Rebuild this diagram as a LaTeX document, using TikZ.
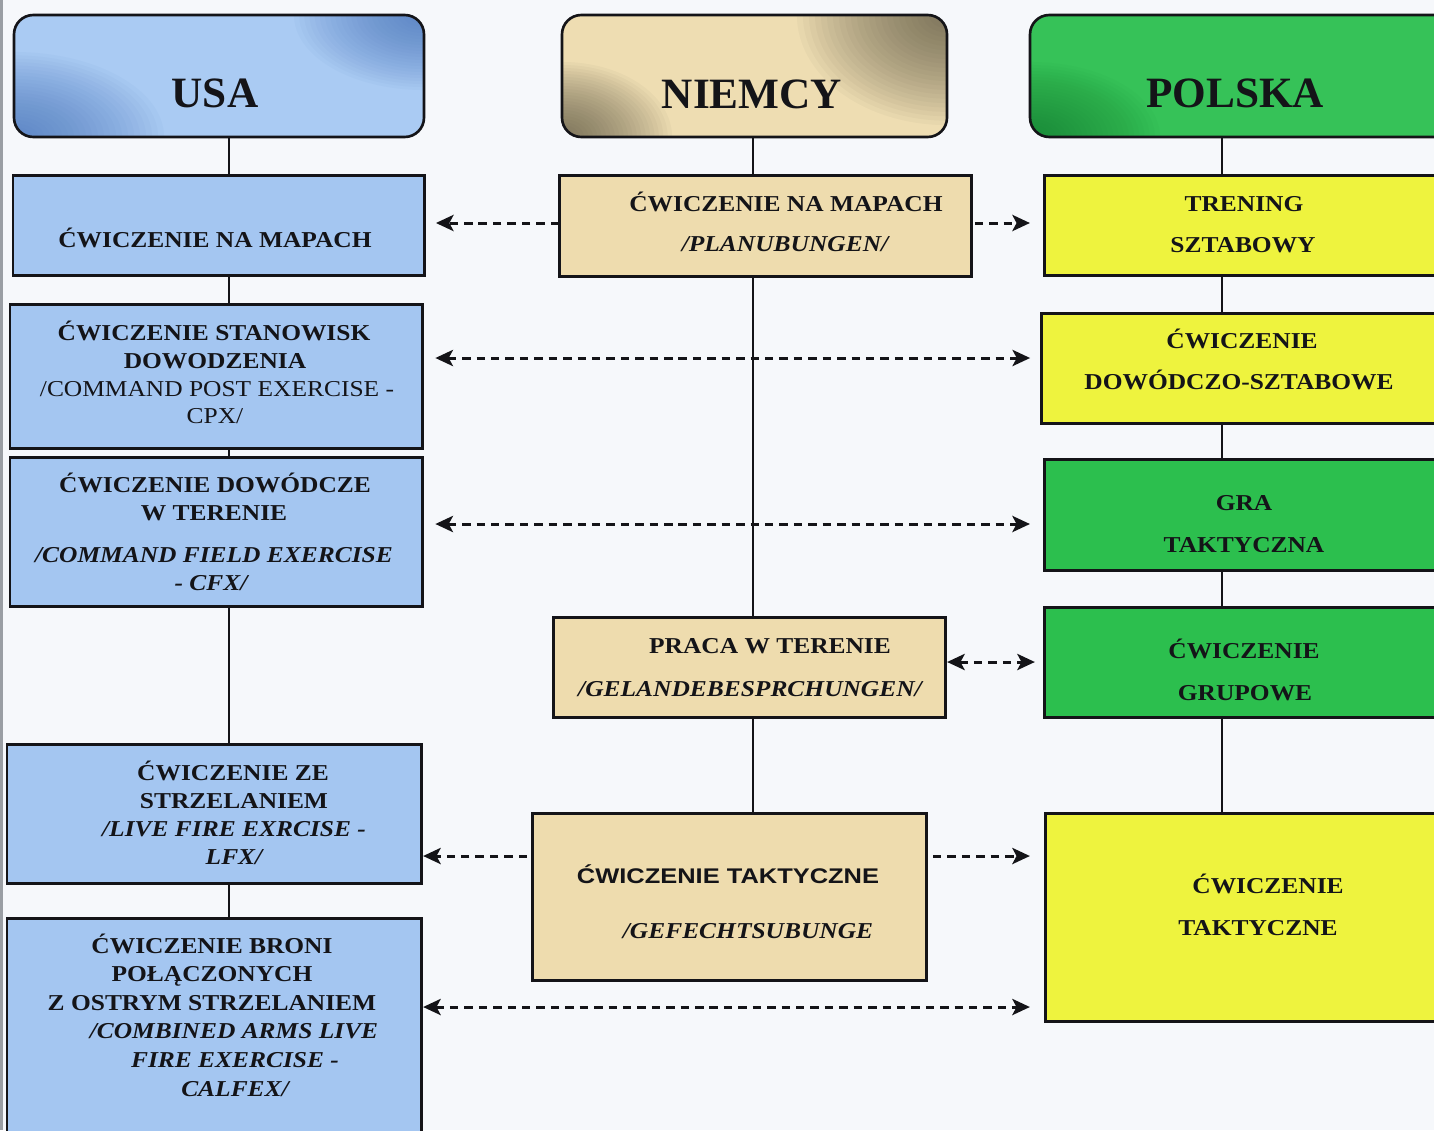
\documentclass[tikz,border=0pt]{standalone}
\usepackage{fontspec}
\usetikzlibrary{arrows.meta,fit}

\newfontfamily\bxserif[FakeStretch=1.12]{Liberation Serif}
\newfontfamily\bxsans[FakeStretch=1.2]{Liberation Sans}
\newfontfamily\hdserif{Liberation Serif}

\definecolor{bgc}{HTML}{F6F8FB}
\definecolor{ink}{HTML}{141418}
\definecolor{bluebox}{HTML}{A4C6F1}
\definecolor{bluehdr}{HTML}{AACBF3}
\definecolor{bluedark}{HTML}{3F6CB8}
\definecolor{tanbox}{HTML}{EEDCAE}
\definecolor{tanhdr}{HTML}{EEDDB2}
\definecolor{tandark}{HTML}{4E4838}
\definecolor{yel}{HTML}{EEF33E}
\definecolor{grn}{HTML}{2CBF4E}
\definecolor{grnhdr}{HTML}{36C258}
\definecolor{grndark}{HTML}{167A32}
\definecolor{edge}{HTML}{9A9EA4}

\tikzset{
  box/.style={draw=ink, line width=0.85pt, inner sep=0pt, outer sep=0pt},
  bluebx/.style={box, fill=bluebox},
  tanbx/.style={box, fill=tanbox},
  yelbx/.style={box, fill=yel},
  grnbx/.style={box, fill=grn},
  hdr/.style={draw=ink, line width=0.75pt, rounded corners=5.5pt, inner sep=0pt, outer sep=0pt},
  ln/.style={anchor=base, inner sep=0pt, outer sep=0pt, text=ink},
  tb/.style={ln, font=\bxserif\fontsize{6.46pt}{7pt}\selectfont\bfseries},
  tbi/.style={ln, font=\bxserif\fontsize{6.46pt}{7pt}\selectfont\bfseries\itshape},
  tr/.style={ln, font=\bxserif\fontsize{6.46pt}{7pt}\selectfont},
  ts/.style={ln, font=\bxsans\fontsize{6.03pt}{7pt}\selectfont\bfseries},
  ttl/.style={ln, font=\hdserif\fontsize{12.3pt}{14pt}\selectfont\bfseries},
  conn/.style={draw=ink, line width=0.55pt},
  tipd/.tip={Stealth[length=5pt,width=4.6pt,inset=1.2pt]},
  darr/.style={draw=ink, line width=0.85pt, dash pattern=on 2.4pt off 1.7pt},
}

% soft dark glow in a header corner: many stacked translucent ellipses
\newcommand\cornerglow[4]{%
  \foreach \s in {1.0,0.96,...,0.04}
    \fill[#1, opacity=0.038] #2 ellipse [x radius=\s*#3, y radius=\s*#4];%
}

\begin{document}
\begin{tikzpicture}[x=0.01cm, y=-0.01cm]
\useasboundingbox (0,0) rectangle (1434,1130);
\clip (0,0) rectangle (1434,1130);
\fill[bgc] (0,0) rectangle (1434,1130);
\fill[edge] (0,0) rectangle (3,1130);

% ---- column headers ----
\node[hdr, fill=bluehdr, fit={(14,15) (424,137)},
  path picture={
    \cornerglow{bluedark}{(path picture bounding box.south west)}{1.5cm}{0.85cm}
    \cornerglow{bluedark}{(path picture bounding box.north east)}{1.3cm}{0.75cm}
  }] (USA) {};
\node[hdr, fill=tanhdr, fit={(562,15) (947,137)},
  path picture={
    \cornerglow{tandark}{(path picture bounding box.north east)}{1.5cm}{1.1cm}
    \cornerglow{tandark}{(path picture bounding box.south west)}{1.1cm}{0.75cm}
  }] (NIEMCY) {};
\node[hdr, fill=grnhdr, fit={(1030,15) (1460,137)},
  path picture={
    \cornerglow{grndark}{(path picture bounding box.south west)}{1.3cm}{0.75cm}
    \cornerglow{grndark}{(1434,15)}{0.9cm}{0.6cm}
  }] (POLSKA) {};

\node[ttl] (USA-t) at (215,107) {USA};
\node[ttl] (NIEMCY-t) at (752,108) {NIEMCY};
\node[ttl] (POLSKA-t) at (1235,107) {POLSKA};

% ---- USA column ----
\node[bluebx, fit={(13,175) (424,275)}] (B1) {};
\node[bluebx, fit={(10,304) (422,448)}] (B2) {};
\node[bluebx, fit={(10,457) (422,606)}] (B3) {};
\node[bluebx, fit={(7,744) (421,883)}] (B4) {};
\node[bluebx, fit={(7,918) (421,1150)}] (B5) {};

\node[tb] (B1-1) at (215,247) {ĆWICZENIE NA MAPACH};

\node[tb] (B2-1) at (214,340) {ĆWICZENIE STANOWISK};
\node[tb] (B2-2) at (215,368) {DOWODZENIA};
\node[tr] (B2-3) at (217,396) {/COMMAND POST EXERCISE -};
\node[tr] (B2-4) at (215,423) {CPX/};

\node[tb] (B3-1) at (215,492) {ĆWICZENIE DOWÓDCZE};
\node[tb] (B3-2) at (214,520) {W TERENIE};
\node[tbi] (B3-3) at (214,562) {/COMMAND FIELD EXERCISE};
\node[tbi] (B3-4) at (211,590) {- CFX/};

\node[tb] (B4-1) at (233,780) {ĆWICZENIE ZE};
\node[tb] (B4-2) at (234,808) {STRZELANIEM};
\node[tbi] (B4-3) at (234,836) {/LIVE FIRE EXRCISE -};
\node[tbi] (B4-4) at (234,864) {LFX/};

\node[tb] (B5-1) at (212,953) {ĆWICZENIE BRONI};
\node[tb] (B5-2) at (212,981) {POŁĄCZONYCH};
\node[tb] (B5-3) at (212,1010) {Z OSTRYM STRZELANIEM};
\node[tbi] (B5-4) at (234,1038) {/COMBINED ARMS LIVE};
\node[tbi] (B5-5) at (235,1067) {FIRE EXERCISE -};
\node[tbi] (B5-6) at (235,1096) {CALFEX/};

% ---- NIEMCY column ----
\node[tanbx, fit={(559,175) (971,276)}] (M1) {};
\node[tanbx, fit={(553,617) (945,717)}] (M2) {};
\node[tanbx, fit={(532,813) (926,980)}] (M3) {};

\node[tb] (M1-1) at (786,211) {ĆWICZENIE NA MAPACH};
\node[tbi] (M1-2) at (785,251) {/PLANUBUNGEN/};

\node[tb] (M2-1) at (770,653) {PRACA W TERENIE};
\node[tbi] (M2-2) at (750,696) {/GELANDEBESPRCHUNGEN/};

\node[ts] (M3-1) at (728,883) {ĆWICZENIE TAKTYCZNE};
\node[tbi] (M3-2) at (748,938) {/GEFECHTSUBUNGE};

% ---- POLSKA column ----
\node[yelbx, fit={(1044,175) (1460,275)}] (R1) {};
\node[yelbx, fit={(1041,313) (1460,423)}] (R2) {};
\node[grnbx, fit={(1044,459) (1460,570)}] (R3) {};
\node[grnbx, fit={(1044,607) (1460,717)}] (R4) {};
\node[yelbx, fit={(1045,813) (1460,1021)}] (R5) {};

\node[tb] (R1-1) at (1244,211) {TRENING};
\node[tb] (R1-2) at (1243,252) {SZTABOWY};

\node[tb] (R2-1) at (1242,348) {ĆWICZENIE};
\node[tb] (R2-2) at (1239,389) {DOWÓDCZO-SZTABOWE};

\node[tb] (R3-1) at (1244,510) {GRA};
\node[tb] (R3-2) at (1244,552) {TAKTYCZNA};

\node[tb] (R4-1) at (1244,658) {ĆWICZENIE};
\node[tb] (R4-2) at (1245,700) {GRUPOWE};

\node[tb] (R5-1) at (1268,893) {ĆWICZENIE};
\node[tb] (R5-2) at (1258,935) {TAKTYCZNE};

% ---- vertical column lines ----
\coordinate (lx) at (229,0);
\coordinate (mx) at (753,0);
\coordinate (rx) at (1222,0);

\draw[conn] (USA.south -| lx) -- (B1.north -| lx);
\draw[conn] (B1.south -| lx) -- (B2.north -| lx);
\draw[conn] (B2.south -| lx) -- (B3.north -| lx);
\draw[conn] (B3.south -| lx) -- (B4.north -| lx);
\draw[conn] (B4.south -| lx) -- (B5.north -| lx);

\draw[conn] (NIEMCY.south -| mx) -- (M1.north -| mx);
\draw[conn] (M1.south -| mx) -- (M2.north -| mx);
\draw[conn] (M2.south -| mx) -- (M3.north -| mx);

\draw[conn] (POLSKA.south -| rx) -- (R1.north -| rx);
\draw[conn] (R1.south -| rx) -- (R2.north -| rx);
\draw[conn] (R2.south -| rx) -- (R3.north -| rx);
\draw[conn] (R3.south -| rx) -- (R4.north -| rx);
\draw[conn] (R4.south -| rx) -- (R5.north -| rx);

% ---- dashed correspondence arrows ----
\coordinate (row1) at (0,223);
\coordinate (row2) at (0,358);
\coordinate (row3) at (0,524);
\coordinate (row4) at (0,662);
\coordinate (row5) at (0,856);
\coordinate (row6) at (0,1007);

\draw[darr, -tipd, shorten >=3.4pt] (M1.west |- row1) -- (B1.east |- row1);
\draw[darr, -tipd, shorten <=1.1pt, shorten >=4pt] (M1.east |- row1) -- (R1.west |- row1);
\draw[darr, tipd-tipd, shorten <=3.8pt, shorten >=3.1pt] (B2.east |- row2) -- (R2.west |- row2);
\draw[darr, tipd-tipd, shorten <=3.8pt, shorten >=4pt] (B3.east |- row3) -- (R3.west |- row3);
\draw[darr, tipd-tipd, shorten <=0.6pt, shorten >=2.6pt] (M2.east |- row4) -- (R4.west |- row4);
\draw[darr, -tipd, shorten <=1.4pt, shorten >=0.6pt] (M3.west |- row5) -- (B4.east |- row5);
\draw[darr, -tipd, shorten <=2pt, shorten >=4.3pt] (M3.east |- row5) -- (R5.west |- row5);
\draw[darr, tipd-tipd, shorten <=0.6pt, shorten >=4.3pt] (B5.east |- row6) -- (R5.west |- row6);
\end{tikzpicture}
\end{document}
